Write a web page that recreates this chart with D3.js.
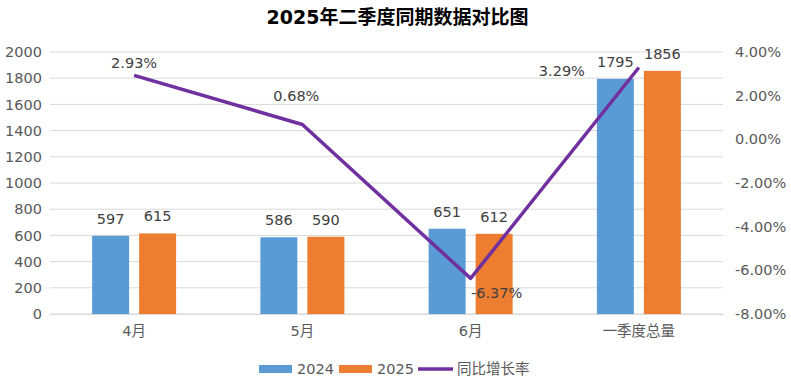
<!DOCTYPE html>
<html>
<head>
<meta charset="utf-8">
<script src="https://cdn.jsdelivr.net/npm/d3@7"></script>
<style>
  body { margin: 0; background: #fff; }
  text { font-family: "DejaVu Sans", "Noto Sans CJK SC", sans-serif; }
</style>
</head>
<body>
<svg id="chart" width="791" height="391"></svg>
<script>
// chart data
const categories = ["4月", "5月", "6月", "一季度总量"];
const values2024 = [597, 586, 651, 1795];
const values2025 = [615, 590, 612, 1856];
const growth = [2.93, 0.68, -6.37, 3.29];
const leftTicks = [0, 200, 400, 600, 800, 1000, 1200, 1400, 1600, 1800, 2000];
const rightTicks = [-8, -6, -4, -2, 0, 2, 4];

// label nudges for the growth line (dx, dy from the point)
const growthLabelOffset = [[0, -12], [-6, -28], [26, 15], [-77, 3]];

const svg = d3.select("#chart");
const margin = { left: 50, right: 68, top: 52, bottom: 77 };
const W = 791, H = 391;
const x0 = margin.left, x1 = W - margin.right;
const yTop = margin.top, yBot = H - margin.bottom;

const x = d3.scaleBand().domain(categories).range([x0, x1]);
const yL = d3.scaleLinear().domain([0, 2000]).range([yBot, yTop]);
const yR = d3.scaleLinear().domain([-8, 4]).range([yBot, yTop]);

const blue = "#5B9BD5", orange = "#ED7D31", purple = "#7030A0";
const textCol = "#595959";
const fs = 14.5;

// title
svg.append("text")
  .attr("x", W / 2 + 2).attr("y", 24)
  .attr("text-anchor", "middle")
  .attr("font-size", 19).attr("font-weight", "bold")
  .attr("fill", "#000")
  .text("2025年二季度同期数据对比图");

// gridlines
svg.append("g").selectAll("line").data(leftTicks).join("line")
  .attr("x1", x0).attr("x2", x1)
  .attr("y1", d => yL(d)).attr("y2", d => yL(d))
  .attr("stroke", "#d9d9d9").attr("stroke-width", 1);

// left axis
const axL = svg.append("g").attr("transform", `translate(${x0},0)`)
  .call(d3.axisLeft(yL).tickValues(leftTicks).tickSize(0).tickPadding(8)
    .tickFormat(d3.format("d")));
axL.select(".domain").remove();
axL.selectAll("text").attr("font-size", fs).attr("fill", textCol)
  .style("font-family", "DejaVu Sans");

// right axis
const axR = svg.append("g").attr("transform", `translate(${x1},0)`)
  .call(d3.axisRight(yR).tickValues(rightTicks).tickSize(0).tickPadding(12)
    .tickFormat(d => d.toFixed(2) + "%"));
axR.select(".domain").remove();
axR.selectAll("text").attr("font-size", fs).attr("fill", textCol)
  .style("font-family", "DejaVu Sans");

// bottom axis labels
const axB = svg.append("g").attr("transform", `translate(0,${yBot})`)
  .call(d3.axisBottom(x).tickSize(0).tickPadding(12));
axB.select(".domain").attr("stroke", "#d9d9d9");
axB.selectAll("text").attr("font-size", fs).attr("fill", textCol)
  .style("font-family", "DejaVu Sans, Noto Sans CJK SC");

// bars
const barW = 37, gap = 10;
const series = [
  { name: "2024", vals: values2024, color: blue, off: -gap / 2 - barW },
  { name: "2025", vals: values2025, color: orange, off: gap / 2 }
];
series.forEach(s => {
  const g = svg.append("g");
  g.selectAll("rect").data(s.vals).join("rect")
    .attr("x", (d, i) => x(categories[i]) + x.bandwidth() / 2 + s.off)
    .attr("y", d => yL(d))
    .attr("width", barW)
    .attr("height", d => yBot - yL(d))
    .attr("fill", s.color);
  g.selectAll("text").data(s.vals).join("text")
    .attr("x", (d, i) => x(categories[i]) + x.bandwidth() / 2 + s.off + barW / 2)
    .attr("y", d => yL(d) - 12)
    .attr("text-anchor", "middle")
    .attr("font-size", fs).attr("fill", "#404040")
    .text(d => d);
});

// growth line
const cx = c => x(c) + x.bandwidth() / 2;
const line = d3.line().x((d, i) => cx(categories[i])).y(d => yR(d));
svg.append("path").datum(growth)
  .attr("d", line)
  .attr("fill", "none")
  .attr("stroke", purple).attr("stroke-width", 3.5)
  .attr("stroke-linejoin", "round");

svg.append("g").selectAll("text").data(growth).join("text")
  .attr("x", (d, i) => cx(categories[i]) + growthLabelOffset[i][0])
  .attr("y", (d, i) => yR(d) + growthLabelOffset[i][1] + 5)
  .attr("text-anchor", "middle")
  .attr("font-size", fs).attr("fill", "#404040")
  .text(d => d.toFixed(2) + "%");

// legend
const legend = svg.append("g").attr("transform", "translate(0,369)");
const items = [
  { label: "2024", type: "rect", color: blue, x: 259 },
  { label: "2025", type: "rect", color: orange, x: 339 },
  { label: "同比增长率", type: "line", color: purple, x: 418 }
];
items.forEach(it => {
  if (it.type === "rect") {
    legend.append("rect").attr("x", it.x).attr("y", -4).attr("width", 33).attr("height", 8)
      .attr("fill", it.color);
  } else {
    legend.append("line").attr("x1", it.x).attr("x2", it.x + 35)
      .attr("y1", 0).attr("y2", 0)
      .attr("stroke", it.color).attr("stroke-width", 3.5);
  }
  legend.append("text")
    .attr("x", it.x + (it.type === "rect" ? 38 : 39)).attr("y", 5)
    .attr("font-size", fs).attr("fill", textCol)
    .text(it.label);
});
</script>
</body>
</html>
